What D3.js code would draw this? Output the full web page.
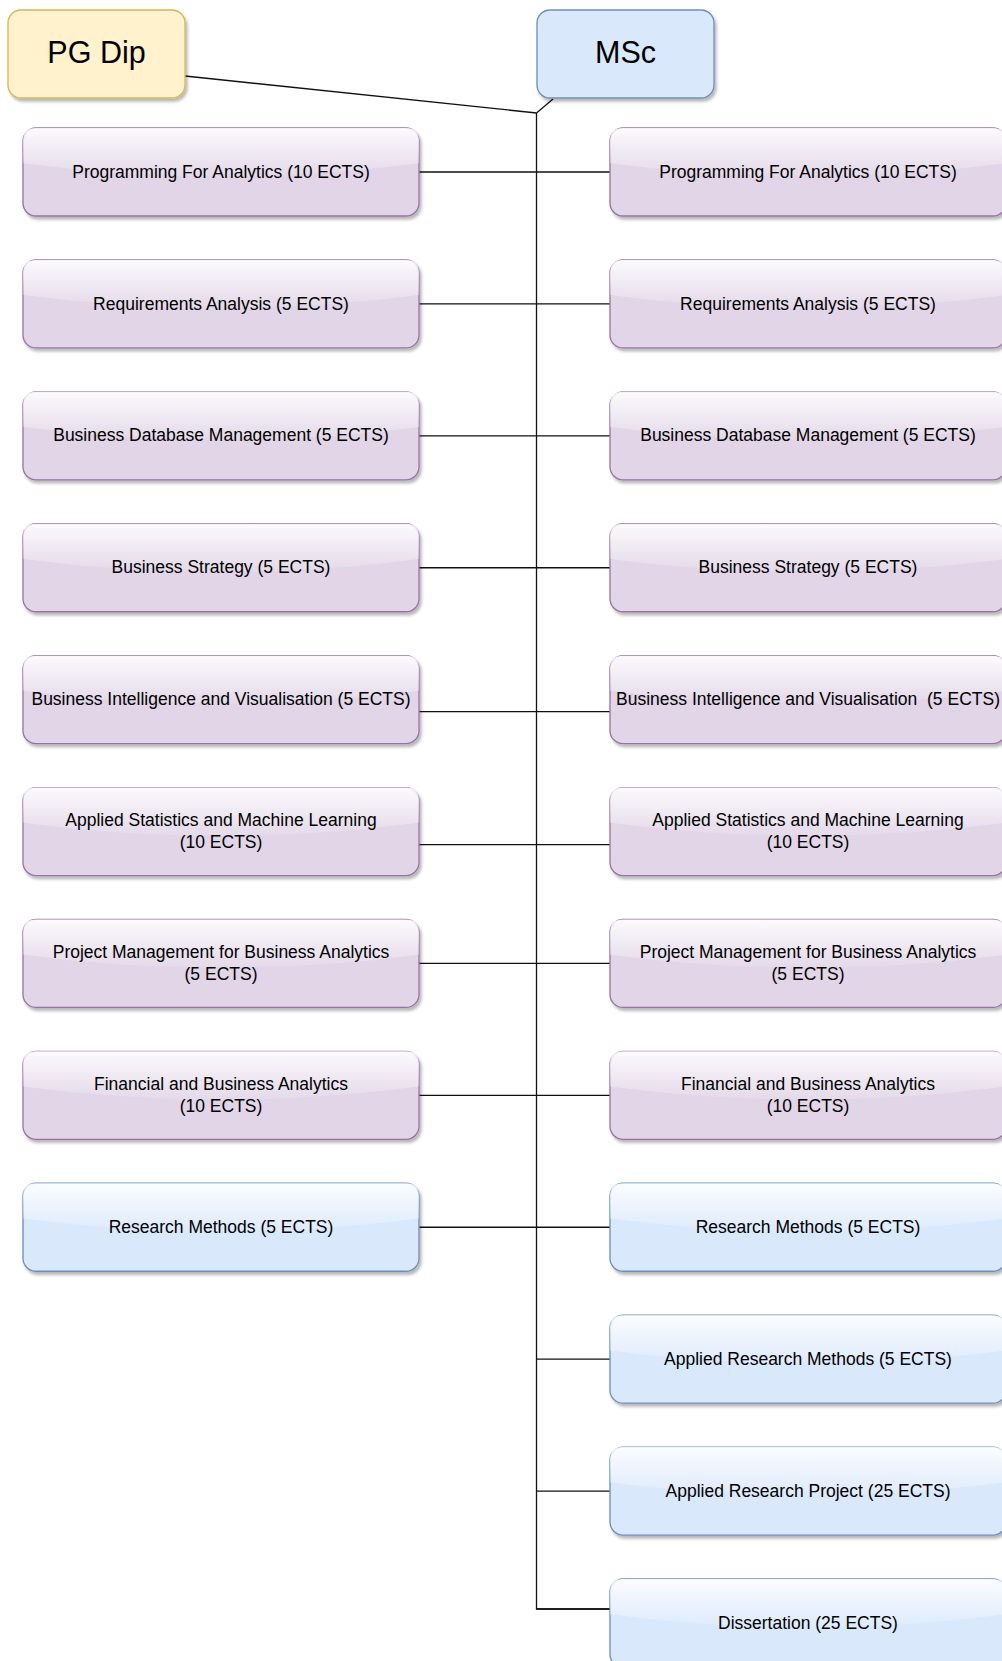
<!DOCTYPE html>
<html>
<head>
<meta charset="utf-8">
<script src="https://cdn.jsdelivr.net/npm/d3@7"></script>
<style>
html, body { margin: 0; padding: 0; background: #fff; }
svg { display: block; font-family: "Liberation Sans", Arial, Helvetica, sans-serif; }
.label { white-space: pre; }
</style>
</head>
<body>
<div class="container"></div>
<script>
"use strict";

var programmes = ["PG Dip", "MSc"];
var pgDipModules = [
  "Programming For Analytics (10 ECTS)",
  "Requirements Analysis (5 ECTS)",
  "Business Database Management (5 ECTS)",
  "Business Strategy (5 ECTS)",
  "Business Intelligence and Visualisation (5 ECTS)",
  "Applied Statistics and Machine Learning\n(10 ECTS)",
  "Project Management for Business Analytics\n(5 ECTS)",
  "Financial and Business Analytics\n(10 ECTS)",
  "Research Methods (5 ECTS)"
];
var mscModules = [
  "Programming For Analytics (10 ECTS)",
  "Requirements Analysis (5 ECTS)",
  "Business Database Management (5 ECTS)",
  "Business Strategy (5 ECTS)",
  "Business Intelligence and Visualisation  (5 ECTS)",
  "Applied Statistics and Machine Learning\n(10 ECTS)",
  "Project Management for Business Analytics\n(5 ECTS)",
  "Financial and Business Analytics\n(10 ECTS)",
  "Research Methods (5 ECTS)",
  "Applied Research Methods (5 ECTS)",
  "Applied Research Project (25 ECTS)",
  "Dissertation (25 ECTS)"
];
var moduleKinds = ["taught", "taught", "taught", "taught", "taught", "taught", "taught", "taught",
  "research", "research", "research", "research"];

var w = 1002,
    h = 1661;

var boxW = 396,
    boxH = 88,
    headW = 177,
    headH = 88,
    trunkX = 536.5,
    junctionY = 113;

var fills = { "taught": "#e1d5e7", "research": "#dae8fc", "PG Dip": "#fff2cc", "MSc": "#dae8fc" };
var strokes = { "taught": "#9673a6", "research": "#6c8ebf", "PG Dip": "#d6b656", "MSc": "#6c8ebf" };

//Row centres and column positions
var yScale = d3.scalePoint().domain(d3.range(mscModules.length)).range([172, 1623]);
var colScale = d3.scaleOrdinal().domain(programmes).range([23, 610]);
var headScale = d3.scaleOrdinal().domain(programmes).range([8, 537]);

//where the connector meets the box is not always the middle
var linkNudge = { 4: 12, 5: 13, 11: -14 };
function linkY(i) {
  return yScale(i) + (linkNudge[i] || 0);
}

var svg = d3.select(".container").append("svg").attr("width", w).attr("height", h);

var defs = svg.append("defs");
var shadow = defs.append("filter").attr("id", "shadow").attr("x", "-10%").attr("y", "-10%").attr("width", "130%").attr("height", "140%");
shadow.append("feDropShadow").attr("dx", 2).attr("dy", 3).attr("stdDeviation", 1.8).attr("flood-color", "#000").attr("flood-opacity", 0.28);

var glass = defs.append("linearGradient").attr("id", "glass").attr("x1", 0).attr("y1", 0).attr("x2", 0).attr("y2", 1);
glass.append("stop").attr("offset", 0).attr("stop-color", "#fff").attr("stop-opacity", 0.9);
glass.append("stop").attr("offset", 1).attr("stop-color", "#fff").attr("stop-opacity", 0.1);

//Connectors
var links = svg.append("g").attr("fill", "none").attr("stroke", "#111").attr("stroke-width", 1.3);

var pgBox = headScale("PG Dip"),
    mscBox = headScale("MSc");
links.append("path").attr("d", d3.line()([[pgBox + headW, 10 + headH * 0.75], [trunkX, junctionY]]));
links.append("path").attr("d", d3.line()([[mscBox + 16, 10 + headH + 1], [trunkX, junctionY]]));

var lastRow = mscModules.length - 1;
links.append("path").attr("d", d3.line()([[trunkX, junctionY], [trunkX, linkY(lastRow)], [colScale("MSc"), linkY(lastRow)]]));

links.selectAll(".row-link").data(mscModules).enter().append("path").attr("class", "row-link").attr("d", function (d, i) {
  var x0 = i < pgDipModules.length ? colScale("PG Dip") + boxW : trunkX;
  return d3.line()([[x0, linkY(i)], [colScale("MSc"), linkY(i)]]);
});

//Programme headers
var heads = svg.selectAll(".head").data(programmes).enter().append("g").attr("class", "head")
  .attr("transform", function (d) { return "translate(" + headScale(d) + ",10)"; });
heads.append("rect").attr("width", headW).attr("height", headH).attr("rx", 13).attr("ry", 13)
  .attr("fill", function (d) { return fills[d]; }).attr("stroke", function (d) { return strokes[d]; })
  .attr("stroke-width", 1.3).attr("filter", "url(#shadow)");
heads.append("text").attr("x", headW / 2).attr("y", headH / 2).attr("dy", "0.3em").attr("text-anchor", "middle")
  .attr("font-size", 30.5).attr("fill", "#000").text(function (d) { return d; });

//Module boxes
function glassPath(bw, bh, arc) {
  var size = 0.4;
  var p = d3.path();
  p.moveTo(arc, 0);
  p.quadraticCurveTo(0, 0, 0, arc);
  p.lineTo(0, bh * size);
  p.quadraticCurveTo(bw * 0.5, bh * 0.7, bw, bh * size);
  p.lineTo(bw, arc);
  p.quadraticCurveTo(bw, 0, bw - arc, 0);
  p.closePath();
  return p.toString();
}

var moduleData = [];
pgDipModules.forEach(function (m, i) { moduleData.push({ prog: "PG Dip", row: i, label: m }); });
mscModules.forEach(function (m, i) { moduleData.push({ prog: "MSc", row: i, label: m }); });

var boxes = svg.selectAll(".module").data(moduleData).enter().append("g").attr("class", "module")
  .attr("transform", function (d) { return "translate(" + colScale(d.prog) + "," + (yScale(d.row) - boxH / 2) + ")"; });

boxes.append("rect").attr("width", boxW).attr("height", boxH).attr("rx", 13).attr("ry", 13)
  .attr("fill", function (d) { return fills[moduleKinds[d.row]]; })
  .attr("stroke", function (d) { return strokes[moduleKinds[d.row]]; })
  .attr("stroke-width", 1.3).attr("filter", "url(#shadow)");
boxes.append("path").attr("d", glassPath(boxW, boxH, 13)).attr("fill", "url(#glass)");

var labels = boxes.append("text").attr("class", "label").attr("text-anchor", "middle").attr("font-size", 17.5).attr("fill", "#000");
labels.each(function (d) {
  var lines = d.label.split("\n");
  var t = d3.select(this);
  lines.forEach(function (line, k) {
    t.append("tspan").attr("x", boxW / 2)
      .attr("y", boxH / 2 + (k - (lines.length - 1) / 2) * 21.5)
      .attr("dy", "0.32em").text(line);
  });
});
</script>
</body>
</html>
